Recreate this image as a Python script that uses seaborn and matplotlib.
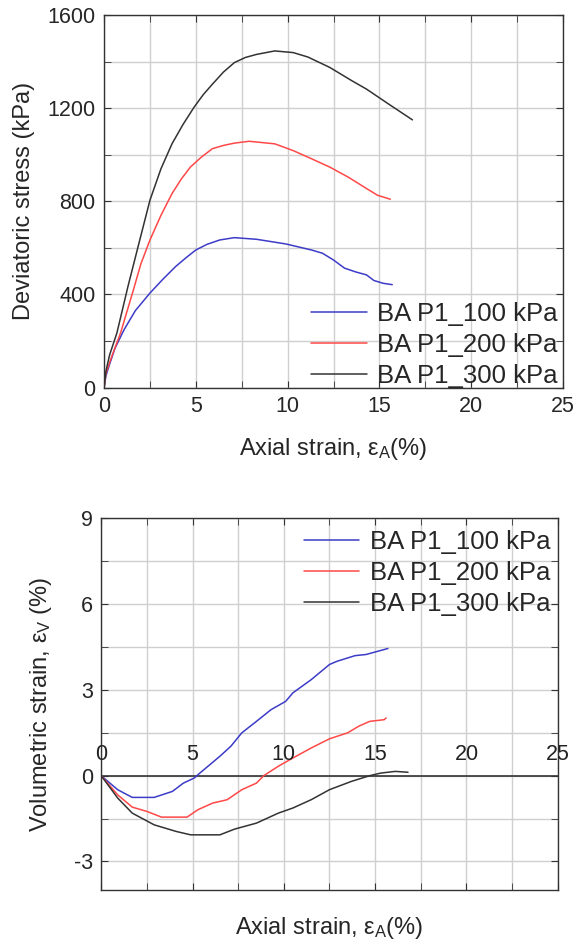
import numpy as np
import pandas as pd
import matplotlib
matplotlib.use("Agg")
import matplotlib.pyplot as plt
import seaborn as sns
from matplotlib.ticker import MultipleLocator

sns.set_style("ticks")
plt.rcParams['font.family'] = ['Liberation Sans', 'DejaVu Sans']
plt.rcParams['mathtext.fontset'] = 'custom'
plt.rcParams['mathtext.rm'] = 'Liberation Sans'
plt.rcParams['mathtext.it'] = 'Liberation Sans'
plt.rcParams['axes.unicode_minus'] = False

labels = ["BA P1_100 kPa", "BA P1_200 kPa", "BA P1_300 kPa"]
colors = ["#3c3cc8", "#ff4848", "#333333"]

# Top: deviatoric stress vs axial strain
q100_x = [0, 0.1, 0.3, 0.6, 1.1, 1.7, 2.5, 3.2, 3.9, 4.5, 5.0, 5.6, 6.3, 7.1, 8.3, 9.9, 11.3, 11.9, 12.5, 13.1, 13.7, 14.3, 14.7, 15.2, 15.7]
q100_y = [0, 50, 100, 170, 250, 330, 406, 465, 520, 560, 591, 615, 634, 644, 637, 617, 591, 577, 548, 513, 497, 484, 460, 448, 442]
q200_x = [0, 0.1, 0.4, 0.9, 1.6, 2.0, 2.5, 3.1, 3.7, 4.2, 4.7, 5.3, 5.9, 6.5, 7.1, 7.9, 9.3, 10.3, 11.3, 12.3, 13.3, 14.3, 14.9, 15.6]
q200_y = [0, 60, 130, 235, 420, 530, 634, 740, 833, 895, 947, 990, 1026, 1040, 1050, 1058, 1047, 1018, 983, 947, 904, 855, 826, 809]
q300_x = [0, 0.1, 0.3, 0.7, 1.3, 1.9, 2.5, 3.1, 3.7, 4.3, 4.9, 5.4, 5.9, 6.5, 7.1, 7.7, 8.3, 9.3, 10.3, 11.1, 12.3, 13.5, 14.3, 15.5, 16.8]
q300_y = [0, 70, 140, 235, 434, 620, 805, 940, 1047, 1130, 1204, 1258, 1303, 1355, 1396, 1418, 1431, 1446, 1439, 1420, 1375, 1318, 1282, 1218, 1150]

# Bottom: volumetric strain vs axial strain
v100_x = [0, 0.9, 1.7, 2.9, 3.9, 4.5, 5.1, 5.4, 6.5, 7.1, 7.7, 8.5, 9.3, 10.1, 10.5, 11.5, 12.5, 12.9, 13.9, 14.5, 15.7]
v100_y = [0, -0.49, -0.76, -0.76, -0.55, -0.26, -0.08, 0.09, 0.68, 1.03, 1.5, 1.9, 2.31, 2.6, 2.9, 3.36, 3.89, 4.0, 4.2, 4.24, 4.45]
v200_x = [0, 0.9, 1.7, 2.5, 3.3, 4.7, 5.3, 6.1, 6.9, 7.7, 8.5, 8.9, 9.7, 10.5, 11.5, 12.5, 13.5, 14.1, 14.7, 15.5, 15.6]
v200_y = [0, -0.67, -1.1, -1.25, -1.45, -1.45, -1.19, -0.96, -0.84, -0.49, -0.26, 0.0, 0.33, 0.62, 0.97, 1.29, 1.5, 1.73, 1.9, 1.96, 2.02]
v300_x = [0, 0.9, 1.7, 2.9, 4.1, 4.9, 6.5, 7.3, 8.5, 9.7, 10.5, 11.5, 12.5, 13.7, 14.7, 15.3, 16.1, 16.8]
v300_y = [0, -0.78, -1.31, -1.72, -1.95, -2.07, -2.07, -1.87, -1.66, -1.31, -1.13, -0.84, -0.49, -0.2, 0.0, 0.09, 0.15, 0.12]

x_ticks = [0, 5, 10, 15, 20, 25]
q_ticks = [0, 400, 800, 1200, 1600]
v_ticks = [-3, 0, 3, 6, 9]

def frame(xs, ys, lab):
    return pd.DataFrame({"x": xs, "y": ys, "series": lab})

df_q = pd.concat([frame(q100_x, q100_y, labels[0]), frame(q200_x, q200_y, labels[1]),
                  frame(q300_x, q300_y, labels[2])], ignore_index=True)
df_v = pd.concat([frame(v100_x, v100_y, labels[0]), frame(v200_x, v200_y, labels[1]),
                  frame(v300_x, v300_y, labels[2])], ignore_index=True)

fig = plt.figure(figsize=(5.75, 9.43), dpi=100)
ax1 = fig.add_axes([0.181, 0.589, 0.798, 0.395])
ax2 = fig.add_axes([0.176, 0.0562, 0.794, 0.394])

pal = dict(zip(labels, colors))
TFS = 15.5
LFS = 17
GFS = 18.5

for ax in (ax1, ax2):
    ax.grid(True, which='both', color='#cfcfcf', lw=1.0)
    ax.set_axisbelow(True)
    for s in ax.spines.values():
        s.set_color('#333333')
        s.set_linewidth(1.0)
    ax.tick_params(which='both', direction='in', top=True, right=True, length=5, color='#333333')
    ax.tick_params(which='major', pad=6)
    ax.xaxis.set_minor_locator(MultipleLocator(2.5))

sns.lineplot(data=df_q, x="x", y="y", hue="series", palette=pal, ax=ax1, sort=False,
             estimator=None, lw=1.1)
ax1.set_xlim(0, 25)
ax1.set_ylim(0, 1600)
ax1.set_xticks(x_ticks)
ax1.set_yticks(q_ticks)
ax1.yaxis.set_minor_locator(MultipleLocator(200))
ax1.tick_params(labelsize=TFS)
ax1.set_xlabel(r'Axial strain, $\varepsilon_A$(%)', fontsize=LFS, labelpad=14)
ax1.set_ylabel('Deviatoric stress (kPa)', fontsize=LFS, labelpad=9)
ax1.legend(loc='lower right', bbox_to_anchor=(1.005, -0.022), frameon=False, fontsize=GFS,
           handlelength=2.15, handletextpad=0.4, labelspacing=0.28, borderaxespad=0.1,
           borderpad=0.2)

sns.lineplot(data=df_v, x="x", y="y", hue="series", palette=pal, ax=ax2, sort=False,
             estimator=None, lw=1.1)
ax2.axhline(0, color='#333333', lw=1.2, zorder=1.5)
ax2.set_xlim(0, 25)
ax2.set_ylim(-4, 9)
ax2.set_xticks(x_ticks)
ax2.set_xticklabels([])
ax2.set_yticks(v_ticks)
ax2.yaxis.set_minor_locator(MultipleLocator(1.5))
ax2.tick_params(labelsize=TFS)
for t in x_ticks:
    ax2.text(t, 0.56, str(t), ha='center', va='baseline', fontsize=TFS, color='#222222')
ax2.set_xlabel(r'Axial strain, $\varepsilon_A$(%)', fontsize=LFS, labelpad=12)
ax2.set_ylabel(r'Volumetric strain, $\varepsilon_V$ (%)', fontsize=LFS, labelpad=14)
ax2.legend(loc='upper right', bbox_to_anchor=(1.0, 0.99), frameon=False, fontsize=GFS,
           handlelength=2.15, handletextpad=0.4, labelspacing=0.28, borderaxespad=0.1,
           borderpad=0.2)

fig.savefig("out.png", dpi=100)
